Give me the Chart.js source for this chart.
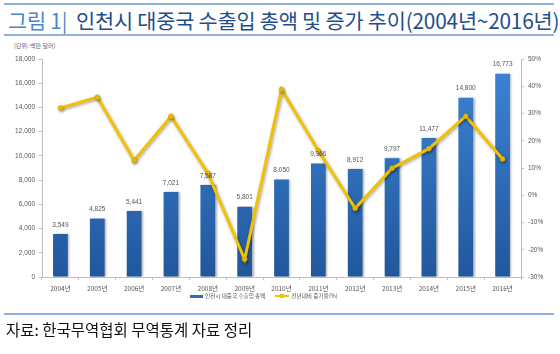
<!DOCTYPE html>
<html><head><meta charset="utf-8">
<script src="https://cdn.jsdelivr.net/npm/chart.js@4/dist/chart.umd.min.js"></script>
<style>
html,body{margin:0;padding:0;background:#fff;width:560px;height:354px;overflow:hidden;font-family:"Noto Sans CJK KR",sans-serif;}
#topline{position:absolute;left:4px;top:3px;width:550px;height:2px;background:#8FB1DA;}
#title{position:absolute;left:8px;top:5px;font-size:20.8px;white-space:nowrap;color:#1F4E8C;letter-spacing:-0.2px;}
#title .n{color:#4A86C8;}
#midline{position:absolute;left:4px;top:34px;width:550px;height:2px;background:#8FB1DA;}
#unit{position:absolute;left:14px;top:41px;font-size:6px;color:#666;}
#wrap{position:absolute;left:0;top:40px;width:560px;height:265px;}
#legend{position:absolute;top:292px;left:190px;font-size:5.6px;color:#555;white-space:nowrap;}
#legend span{display:inline-block;vertical-align:middle;}
#botline{position:absolute;left:4px;top:313px;width:550px;height:2px;background:#8FB1DA;}
#src{position:absolute;left:6px;top:318px;font-size:15.5px;color:#111;white-space:nowrap;}
</style></head><body>
<div id="topline"></div>
<div id="title"><span class="n">그림 1|</span>&nbsp; 인천시 대중국 수출입 총액 및 증가 추이(2004년~2016년)</div>
<div id="midline"></div>
<div id="unit">(단위: 백만 달러)</div>
<div id="wrap"><canvas id="c" width="560" height="265"></canvas></div>
<div id="legend"><span style="width:13px;height:3px;background:#2E6DB8;margin-right:2px"></span><span>인천시 대중국 수출입 총액</span><span style="width:10px"></span><span style="position:relative;width:14px;height:2px;background:#F2C200;margin-right:2px"><span style="position:absolute;left:5px;top:-1.5px;width:4px;height:4px;background:#F2C200"></span></span><span>전년대비 증가율(%)</span></div>
<div id="botline"></div>
<div id="src">자료: 한국무역협회 무역통계 자료 정리</div>
<script>
const categories = ["2004년","2005년","2006년","2007년","2008년","2009년","2010년","2011년","2012년","2013년","2014년","2015년","2016년"];
const totals = [3549,4825,5441,7021,7587,5801,8050,9366,8912,9797,11477,14800,16773];
const growth = [32,36,12.8,29,8.1,-23.5,38.8,16.3,-4.8,9.9,17.1,29,13.3];
const leftTicks = [0,2000,4000,6000,8000,10000,12000,14000,16000,18000];
const rightTicks = [-30,-20,-10,0,10,20,30,40,50];

const tickFont = {family:"Liberation Sans", size:6.5};
const labelPlugin = {
  id:'barLabels',
  afterDatasetsDraw(chart){
    const ctx = chart.ctx;
    const meta = chart.getDatasetMeta(0);
    ctx.save();
    ctx.font = '6.5px "Liberation Sans"';
    ctx.fillStyle = '#555';
    ctx.textAlign = 'center';
    ctx.textBaseline = 'bottom';
    meta.data.forEach((el,i)=>{
      ctx.fillText(totals[i].toLocaleString('en-US'), el.x, el.y-6);
    });
    ctx.restore();
  }
};
const shadowPlugin = {
  id:'lineShadow',
  beforeDatasetDraw(chart,args){
    if(args.index===1){chart.ctx.save();chart.ctx.shadowColor='rgba(0,0,0,0.35)';chart.ctx.shadowBlur=3;chart.ctx.shadowOffsetX=1;chart.ctx.shadowOffsetY=1.5;}
    if(args.index===0){chart.ctx.save();chart.ctx.shadowColor='rgba(0,0,0,0.3)';chart.ctx.shadowBlur=2;chart.ctx.shadowOffsetX=1.5;chart.ctx.shadowOffsetY=0;}
  },
  afterDatasetDraw(chart,args){ chart.ctx.restore(); }
};
new Chart(document.getElementById('c'),{
  data:{
    labels:categories,
    datasets:[
      {type:'bar',label:'인천시 대중국 수출입 총액',data:totals,yAxisID:'y',order:2,
       backgroundColor:(c)=>{const a=c.chart.chartArea; if(!a) return '#2E6DB8';
         const g=c.chart.ctx.createLinearGradient(0,a.top,0,a.bottom);
         g.addColorStop(0,'#3D85D6');g.addColorStop(1,'#21579C');return g;},
       barPercentage:0.8,categoryPercentage:0.5},
      {type:'line',label:'전년대비 증가율(%)',data:growth,yAxisID:'y1',order:1,
       borderColor:'#F2C200',borderWidth:3,pointRadius:2.5,pointBackgroundColor:'#F2C200',
       pointBorderColor:'#C9A000',pointBorderWidth:0.5,tension:0}
    ]
  },
  options:{
    responsive:false,animation:false,
    layout:{padding:{top:19,left:0,right:0,bottom:0}},
    plugins:{legend:{display:false},tooltip:{enabled:false}},
    scales:{
      x:{grid:{display:true,offset:true,drawOnChartArea:false,tickLength:3,color:'#BFBFBF'},
         border:{color:'#BFBFBF'},
         ticks:{font:{family:"Noto Sans CJK KR",size:6.5},color:'#555',maxRotation:0,padding:5},
         afterFit(s){s.height=28;}},
      y:{position:'left',min:0,max:18000,
         afterBuildTicks(s){s.ticks=leftTicks.map(v=>({value:v}));},
         grid:{drawOnChartArea:false,tickLength:3,color:'#BFBFBF'},border:{color:'#BFBFBF'},
         ticks:{font:tickFont,color:'#555',padding:4,callback:v=>v.toLocaleString('en-US')},
         afterFit(s){s.width=42;}},
      y1:{position:'right',min:-30,max:50,
         afterBuildTicks(s){s.ticks=rightTicks.map(v=>({value:v}));},
         grid:{drawOnChartArea:false,tickLength:3,color:'#BFBFBF'},border:{color:'#BFBFBF'},
         ticks:{font:tickFont,color:'#555',padding:4,callback:v=>v+'%'},
         afterFit(s){s.width=39;}}
    }
  },
  plugins:[labelPlugin,shadowPlugin]
});
</script>
</body></html>
